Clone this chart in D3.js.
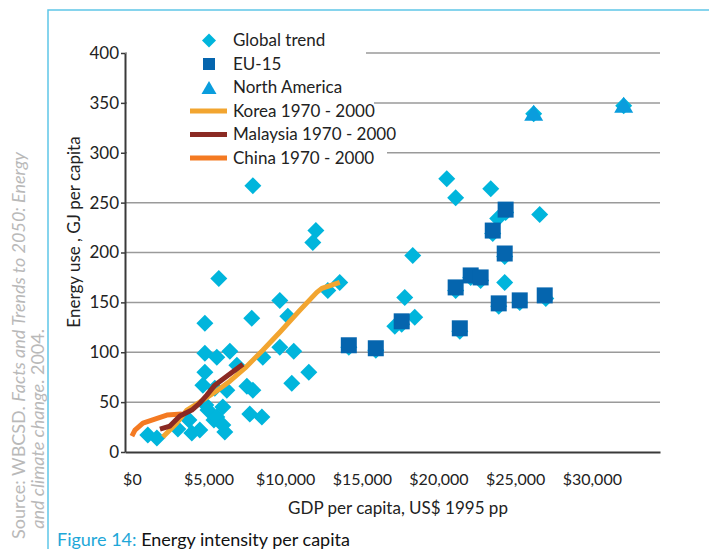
<!DOCTYPE html>
<html>
<head>
<meta charset="utf-8">
<script src="https://cdn.jsdelivr.net/npm/d3@7"></script>
<style>
  body { margin: 0; background: #fff; }
  svg { display: block; font-family: Lato, "Open Sans", sans-serif; }
</style>
</head>
<body>
<div id="chart"></div>
<script>
// data (GDP per capita US$, GJ per capita)
const globalTrend = [
  [1040, 17], [1630, 14], [3000, 23], [3720, 32], [3910, 19], [4430, 22],
  [4960, 42], [5350, 32], [5540, 35], [5930, 45], [5930, 27], [6060, 20],
  [4820, 47], [4630, 67], [5410, 64], [6190, 62], [4760, 80], [6850, 87],
  [4760, 99], [5540, 95], [6390, 101], [4760, 129], [5670, 174], [7890, 267],
  [7820, 134], [7500, 66], [7890, 62], [7690, 38], [8480, 35], [8540, 95],
  [9650, 152], [10170, 136], [9650, 105], [10560, 101], [10430, 69], [11540, 80],
  [11800, 210], [12000, 222], [12780, 162], [13560, 170], [14150, 105], [15910, 102],
  [17150, 126], [17600, 128], [17800, 155], [18450, 135], [18320, 197], [20540, 274],
  [21120, 255], [23410, 264], [23860, 234], [26600, 238], [24320, 170], [21120, 162],
  [21390, 121], [22100, 175], [22750, 172], [23930, 146], [25300, 150], [27000, 154],
  [23540, 219], [24380, 240], [24320, 196], [26210, 339], [32080, 347]
];
const eu15 = [
  [14150, 107], [15910, 104], [17600, 131], [21120, 165], [21390, 124],
  [22100, 177], [22750, 175], [23540, 222], [24380, 243], [24320, 199],
  [23930, 149], [25300, 152], [26930, 157]
];
const northAmerica = [[26210, 340], [32080, 348]];

const korea = [
  [2020, 15], [2930, 29], [3590, 42], [4430, 50], [5410, 60], [6390, 71],
  [7370, 84], [8540, 102], [9650, 120], [10950, 142], [12060, 160],
  [12390, 164], [13560, 170]
];
const malaysia = [
  [1830, 23], [2480, 26], [3130, 36], [3910, 42], [4430, 49], [4890, 57],
  [5410, 67], [6190, 76], [7240, 88]
];
const china = [[0, 16], [200, 22], [720, 29], [1500, 33], [2280, 37], [3260, 38]];

const xTicks = [0, 5000, 10000, 15000, 20000, 25000, 30000];
const yTicks = [0, 50, 100, 150, 200, 250, 300, 350, 400];

const C = {
  diamond: "#00b5dc", square: "#0565ae", triangle: "#0a9ddd",
  korea: "#f2a530", malaysia: "#8b2a23", china: "#f47a22",
  frame: "#5fc6e8", grid: "#9a9a9a", axis: "#3a3a3a"
};

const W = 709, H = 549;
const svg = d3.select("#chart").append("svg").attr("width", W).attr("height", H);

const x = d3.scaleLinear().domain([-450, 34450]).range([125, 660]);
const y = d3.scaleLinear().domain([0, 400]).range([452, 53]);

// frame
svg.append("path")
  .attr("d", `M48,${H} L48,10 L${W},10`)
  .attr("fill", "none").attr("stroke", C.frame).attr("stroke-width", 1.5);

// source text, rotated (runs off the bottom like the original)
const src = svg.append("g").attr("fill", "#b9b9b9").attr("font-size", 18);
const s1 = src.append("text").attr("transform", "translate(25,152) rotate(-90)").attr("text-anchor", "end");
s1.append("tspan").text("Source: WBCSD. ");
s1.append("tspan").attr("font-style", "italic").text("Facts and Trends to 2050: Energy");
const s2 = src.append("text").attr("transform", "translate(44,329) rotate(-90)").attr("text-anchor", "end");
s2.append("tspan").attr("font-style", "italic").text("and climate change");
s2.append("tspan").text(". 2004.");

// gridlines
svg.append("g").selectAll("line")
  .data(yTicks.filter(d => d > 0))
  .join("line")
  .attr("x1", x.range()[0]).attr("x2", x.range()[1])
  .attr("y1", d => y(d)).attr("y2", d => y(d))
  .attr("stroke", C.grid).attr("stroke-width", 1.5);

// axes
const yAxis = svg.append("g").attr("transform", `translate(${x.range()[0]},0)`)
  .call(d3.axisLeft(y).tickValues(yTicks).tickSize(4).tickPadding(2).tickSizeOuter(0));
const xAxis = svg.append("g").attr("transform", `translate(0,${y(0)})`)
  .call(d3.axisBottom(x).tickValues(xTicks).tickFormat(d3.format("$,")).tickSize(0).tickPadding(22).tickSizeOuter(0));
[yAxis, xAxis].forEach(a => {
  a.select(".domain").attr("stroke", C.axis).attr("stroke-width", 2);
  a.selectAll(".tick line").attr("stroke", C.axis).attr("stroke-width", 1.5);
  a.selectAll("text").attr("fill", "#222").attr("font-family", "Lato, sans-serif");
});
yAxis.selectAll("text").attr("font-size", 17);
xAxis.selectAll("text").attr("font-size", 16);

// axis titles
svg.append("text")
  .attr("transform", "translate(80,232) rotate(-90)")
  .attr("text-anchor", "middle").attr("font-size", 17).attr("fill", "#222")
  .text("Energy use , GJ per capita");
svg.append("text")
  .attr("x", 398).attr("y", 514)
  .attr("text-anchor", "middle").attr("font-size", 17).attr("fill", "#222")
  .text("GDP per capita, US$ 1995 pp");

// markers
const diamondPath = r => `M0,${-r}L${r},0L0,${r}L${-r},0Z`;
const squarePath = s => `M${-s / 2},${-s / 2}h${s}v${s}h${-s}Z`;
const trianglePath = (w, h) => `M0,${-h / 2}L${w / 2},${h / 2}L${-w / 2},${h / 2}Z`;

svg.append("g").selectAll("path")
  .data(globalTrend)
  .join("path")
  .attr("transform", d => `translate(${x(d[0])},${y(d[1])})`)
  .attr("d", diamondPath(8.5))
  .attr("fill", C.diamond);

// country lines
const line = d3.line().x(d => x(d[0])).y(d => y(d[1])).curve(d3.curveLinear);
[[korea, C.korea], [china, C.china], [malaysia, C.malaysia]].forEach(([data, col]) => {
  svg.append("path")
    .datum(data)
    .attr("d", line)
    .attr("fill", "none").attr("stroke", col).attr("stroke-width", 5)
    .attr("stroke-linejoin", "round");
});

svg.append("g").selectAll("path")
  .data(eu15)
  .join("path")
  .attr("transform", d => `translate(${x(d[0])},${y(d[1])})`)
  .attr("d", squarePath(16))
  .attr("fill", C.square);

svg.append("g").selectAll("path")
  .data(northAmerica)
  .join("path")
  .attr("transform", d => `translate(${x(d[0])},${y(d[1])})`)
  .attr("d", trianglePath(19, 16))
  .attr("fill", C.triangle);

// legend
const legendItems = [
  { label: "Global trend", type: "diamond" },
  { label: "EU-15", type: "square" },
  { label: "North America", type: "triangle" },
  { label: "Korea 1970 - 2000", type: "line", color: C.korea },
  { label: "Malaysia 1970 - 2000", type: "line", color: C.malaysia },
  { label: "China 1970 - 2000", type: "line", color: C.china }
];
// white box behind the legend, a bit wider at the bottom row
svg.append("path")
  .attr("d", "M127,27H366V96H374V140H387V170H127Z")
  .attr("fill", "#fff");
const lg = svg.append("g").selectAll("g")
  .data(legendItems)
  .join("g")
  .attr("transform", (d, i) => `translate(209,${40.5 + i * 23.5})`);
lg.append("path")
  .attr("d", d => d.type === "diamond" ? diamondPath(7)
    : d.type === "square" ? squarePath(12)
    : d.type === "triangle" ? trianglePath(15, 13)
    : "M-19,0H18")
  .attr("fill", d => d.type === "diamond" ? C.diamond : d.type === "square" ? C.square
    : d.type === "triangle" ? C.triangle : "none")
  .attr("stroke", d => d.type === "line" ? d.color : "none")
  .attr("stroke-width", 5);
lg.append("text")
  .attr("x", 24).attr("dy", "0.35em")
  .attr("font-size", 17).attr("fill", "#222")
  .text(d => d.label);

// caption
const cap = svg.append("text").attr("x", 57).attr("y", 546).attr("font-size", 18);
cap.append("tspan").attr("fill", "#1ea7d8").text("Figure 14:");
cap.append("tspan").attr("fill", "#111").text(" Energy intensity per capita");
</script>
</body>
</html>
